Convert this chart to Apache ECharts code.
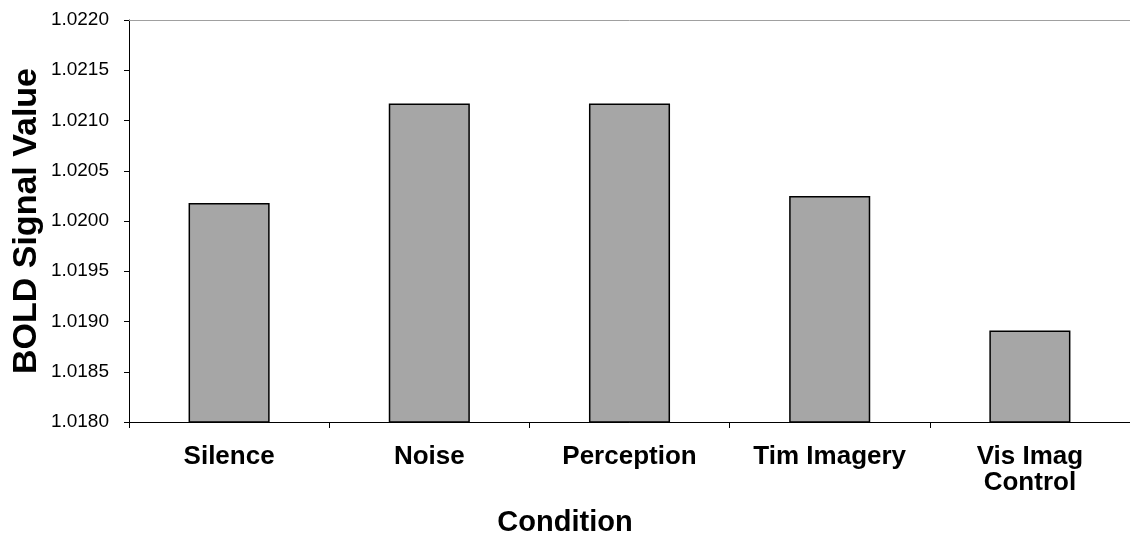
<!DOCTYPE html>
<html lang="en">
<head>
    <meta charset="UTF-8">
    <title>BOLD Signal Value by Condition</title>
    <script src="https://cdn.jsdelivr.net/npm/echarts@6/dist/echarts.min.js"></script>
    <style>
        html, body { margin: 0; padding: 0; background: #fff; }
    </style>
</head>
<body>

<div id="main" style="width: 1130px;height:543px;"></div>

<script type="text/javascript">
    // data
    var conditions = ["Silence", "Noise", "Perception", "Tim Imagery", "Vis Imag\nControl"];
    var boldValues = [1.02018, 1.02117, 1.02117, 1.02025, 1.01891];
    var yMin = 1.0180, yMax = 1.0220, yStep = 0.0005;

    var font = "'Liberation Sans', Arial, sans-serif";

    var myChart = echarts.init(document.getElementById("main"));

    var option = {
        animation: false,
        // x axis title sits a bit left of the plot centre
        title: {
            text: "Condition",
            left: 565,
            top: 508,
            textAlign: "center",
            padding: 0,
            textStyle: { fontFamily: font, fontWeight: "bold", fontSize: 29, color: "#000" }
        },
        grid: { left: 129, right: 0, top: 20, bottom: 121 },
        xAxis: [
            {
                type: "category",
                data: conditions,
                axisLine: { lineStyle: { color: "#000", width: 1 } },
                axisTick: { show: true, length: 6, lineStyle: { color: "#000" } },
                axisLabel: {
                    fontFamily: font, fontWeight: "bold", fontSize: 26, color: "#000",
                    margin: 22, lineHeight: 26, interval: 0
                }
            },
            {
                // gray line on the top of the plot area
                type: "category",
                position: "top",
                data: conditions,
                axisLine: { lineStyle: { color: "#a0a0a0", width: 1 } },
                axisTick: { show: false },
                axisLabel: { show: false }
            }
        ],
        yAxis: {
            type: "value",
            min: yMin,
            max: yMax,
            interval: yStep,
            name: "BOLD Signal Value",
            nameLocation: "middle",
            nameGap: 85,
            nameMoveOverlap: false,
            nameTextStyle: { fontFamily: font, fontWeight: "bold", fontSize: 34, color: "#000" },
            axisLine: { show: true, lineStyle: { color: "#000", width: 1 } },
            axisTick: { show: true, length: 5, lineStyle: { color: "#000" } },
            splitLine: { show: false },
            axisLabel: {
                fontFamily: font, fontSize: 19, color: "#000", margin: 20,
                formatter: function (v) { return v.toFixed(4); }
            }
        },
        series: [
            {
                type: "bar",
                data: boldValues,
                barWidth: "40.5%",
                itemStyle: { color: "#a6a6a6", borderColor: "#000", borderWidth: 1.5 }
            }
        ]
    };

    myChart.setOption(option);
</script>
</body>
</html>
